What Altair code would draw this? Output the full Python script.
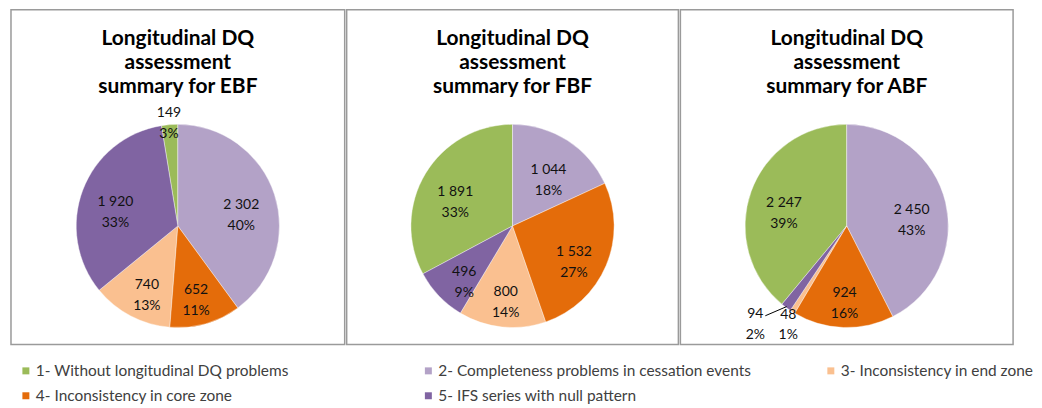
import altair as alt
import pandas as pd

# ---- data ----
categories = [
    "1- Without longitudinal DQ problems",
    "2- Completeness problems in cessation events",
    "3- Inconsistency in end zone",
    "4- Inconsistency in core zone",
    "5- IFS series with null pattern",
]
category_numbers = [1, 2, 3, 4, 5]
colors = ["#9BBB59", "#B3A2C7", "#FAC090", "#E46C0A", "#8064A2"]
slice_order = [2, 4, 3, 5, 1]  # clockwise from 12 o'clock

panels = ["EBF", "FBF", "ABF"]
ebf_values = [149, 2302, 740, 652, 1920]
fbf_values = [1891, 1044, 800, 1532, 496]
abf_values = [2247, 2450, 48, 924, 94]
panel_values = [ebf_values, fbf_values, abf_values]

FONT = "Lato"
PANEL_W = [335, 333, 334]
PANEL_H = 336
R = 102
CY = 217
SMALL_R = 110

color_scale = alt.Scale(domain=categories, range=colors)
panel_view = alt.ViewBackground(stroke="#9a9a9a", strokeWidth=1.5)


def make_panel(name, values, w):
    df = pd.DataFrame({
        "category": categories,
        "num": category_numbers,
        "value": values,
        "ord": [slice_order.index(n) for n in category_numbers],
    })
    cx = w / 2
    base = alt.Chart(df).transform_joinaggregate(
        total="sum(value)"
    ).transform_calculate(
        pct="datum.value / datum.total",
        label="replace(format(datum.value, ','), ',', ' ') + '\\n' + format(datum.value / datum.total, '.0%')",
    )
    theta = alt.Theta("value:Q", stack=True)
    order = alt.Order("ord:Q")
    arcs = base.mark_arc(outerRadius=R, stroke="white", strokeWidth=0.4).encode(
        theta=theta,
        order=order,
        color=alt.Color("category:N", scale=color_scale, legend=None),
        x=alt.value(cx),
        y=alt.value(CY),
    )
    txt_kw = dict(font=FONT, fontSize=14, color="#111111", lineBreak="\n",
                  lineHeight=21, baseline="middle", align="center")
    main_lbl = base.mark_text(radius=67, **txt_kw).encode(
        theta=theta, order=order,
        text=alt.condition("datum.pct >= 0.04", "label:N", alt.value("")),
        x=alt.value(cx), y=alt.value(CY),
    )
    small_lbl = base.mark_text(radius=SMALL_R, dx=0, dy=-4, **txt_kw).encode(
        theta=theta, order=order,
        text=alt.condition("datum.pct < 0.04 && datum.num != 5", "label:N", alt.value("")),
        x=alt.value(cx), y=alt.value(CY),
    )
    small_lbl2 = base.mark_text(radius=SMALL_R, dx=-26, **txt_kw).encode(
        theta=theta, order=order,
        text=alt.condition("datum.pct < 0.04 && datum.num == 5", "label:N", alt.value("")),
        x=alt.value(cx), y=alt.value(CY),
    )
    # leader line from the outside label of the tiny slice 5 to its edge
    leader = base.transform_window(
        cum="sum(value)", sort=[alt.SortField("ord")]
    ).transform_filter(
        "datum.pct < 0.04 && datum.num == 5"
    ).transform_calculate(
        mid="(datum.cum - datum.value / 2) / datum.total * 2 * PI",
    ).transform_calculate(
        ex=f"{cx} + {R - 1} * sin(datum.mid)",
        ey=f"{CY} - {R - 1} * cos(datum.mid)",
        lx=f"{cx} + {SMALL_R} * sin(datum.mid) - 26 + 10",
        ly=f"{CY} - {SMALL_R} * cos(datum.mid) + 2",
    ).mark_rule(color="#000000", strokeWidth=1).encode(
        x=alt.X("lx:Q", scale=None), y=alt.Y("ly:Q", scale=None),
        x2="ex:Q", y2="ey:Q",
    )
    title = alt.Chart(pd.DataFrame({"t": [f"Longitudinal DQ\nassessment\nsummary for {name}"]})).mark_text(
        font=FONT, fontSize=21, fontWeight="bold", color="#000000", lineBreak="\n",
        lineHeight=24.5, baseline="middle", align="center",
    ).encode(text="t:N", x=alt.value(cx), y=alt.value(29))
    return alt.layer(arcs, main_lbl, small_lbl, small_lbl2, leader, title).properties(
        width=w, height=PANEL_H, view=panel_view
    )


charts = [make_panel(n, v, w) for n, v, w in zip(panels, panel_values, PANEL_W)]

# ---- legend drawn as its own small chart (3 columns, 2 rows) ----
legend_df = pd.DataFrame({
    "category": categories,
    "col": [(n - 1) % 3 for n in category_numbers],
    "row": [(n - 1) // 3 for n in category_numbers],
})
lx = alt.X("col:O", scale=alt.Scale(type="point", padding=0.037), axis=None)
ly = alt.Y("row:O", axis=None)
leg_base = alt.Chart(legend_df)
leg_sym = leg_base.mark_square(size=49, opacity=1).encode(
    x=lx, y=ly, color=alt.Color("category:N", scale=color_scale, legend=None)
)
leg_txt = leg_base.mark_text(align="left", baseline="middle", dx=10, font=FONT,
                             fontSize=15.5, color="#404040").encode(
    x=lx, y=ly, text="category:N"
)
legend_chart = alt.layer(leg_sym, leg_txt).properties(
    width=838, height=50, view=alt.ViewBackground(strokeWidth=0)
)

chart = alt.vconcat(
    alt.hconcat(*charts, spacing=0),
    legend_chart,
    spacing=13,
).properties(
    padding={"left": 2, "top": 0, "right": 0, "bottom": 0}
).configure_view(strokeWidth=0)

chart.save("out.html", embed_options={"renderer": "svg", "actions": False})
